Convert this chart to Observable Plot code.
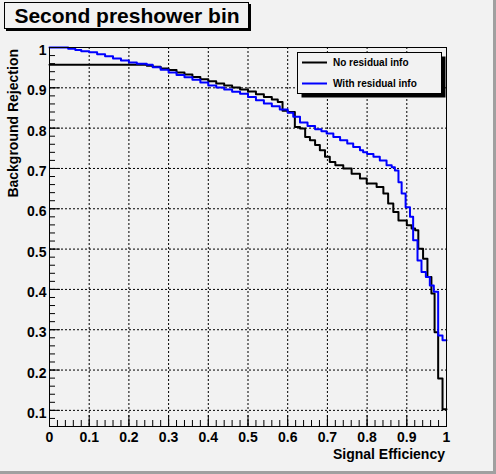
<!DOCTYPE html>
<html><head><meta charset="utf-8">
<script src="https://cdn.jsdelivr.net/npm/d3@7"></script>
<script src="https://cdn.jsdelivr.net/npm/@observablehq/plot@0.6"></script>
<style>
html,body{margin:0;padding:0;background:#f2f2f2;}
#chart{position:relative;width:496px;height:474px;}
</style></head><body><div id="chart"></div>
<script>
// ---- data ----
const titleText = "Second preshower bin";
const xLabel = "Signal Efficiency";
const yLabel = "Background Rejection";
const seriesNames = ["No residual info", "With residual info"];
const seriesColors = ["#000000", "#0000ff"];

// "No residual info" (step-after: value holds from this efficiency to the next)
const effNo = [0, 0.245, 0.26, 0.28, 0.30, 0.32, 0.34, 0.36, 0.38, 0.40, 0.42, 0.44, 0.46, 0.48, 0.50, 0.52, 0.54, 0.56, 0.575, 0.587, 0.600, 0.618, 0.631, 0.644, 0.656, 0.669, 0.681, 0.694, 0.706, 0.720, 0.740, 0.761, 0.782, 0.799, 0.824, 0.841, 0.853, 0.866, 0.879, 0.900, 0.912, 0.921, 0.929, 0.941, 0.952, 0.962, 0.970, 0.979, 0.990, 1.0];
const rejNo = [0.957, 0.955, 0.952, 0.948, 0.944, 0.938, 0.933, 0.927, 0.921, 0.916, 0.911, 0.906, 0.901, 0.896, 0.891, 0.884, 0.877, 0.871, 0.865, 0.843, 0.840, 0.803, 0.799, 0.778, 0.770, 0.758, 0.745, 0.729, 0.716, 0.708, 0.700, 0.687, 0.675, 0.663, 0.654, 0.638, 0.613, 0.592, 0.571, 0.559, 0.551, 0.547, 0.501, 0.476, 0.431, 0.390, 0.294, 0.179, 0.103, 0.103];

// "With residual info"
const effRes = [0, 0.047, 0.065, 0.08, 0.10, 0.12, 0.14, 0.16, 0.18, 0.20, 0.22, 0.245, 0.26, 0.28, 0.30, 0.32, 0.34, 0.36, 0.38, 0.40, 0.42, 0.44, 0.46, 0.48, 0.50, 0.52, 0.54, 0.56, 0.58, 0.60, 0.614, 0.631, 0.65, 0.669, 0.685, 0.698, 0.715, 0.732, 0.75, 0.765, 0.782, 0.79, 0.80, 0.816, 0.832, 0.849, 0.862, 0.870, 0.879, 0.887, 0.897, 0.908, 0.916, 0.927, 0.937, 0.948, 0.958, 0.968, 0.979, 0.990, 1.0];
const rejRes = [1.0, 0.997, 0.994, 0.991, 0.988, 0.983, 0.978, 0.973, 0.968, 0.963, 0.960, 0.957, 0.951, 0.945, 0.938, 0.932, 0.926, 0.920, 0.913, 0.906, 0.901, 0.896, 0.890, 0.885, 0.877, 0.869, 0.861, 0.854, 0.846, 0.838, 0.828, 0.814, 0.805, 0.797, 0.792, 0.787, 0.778, 0.770, 0.762, 0.753, 0.745, 0.740, 0.736, 0.729, 0.720, 0.708, 0.703, 0.695, 0.666, 0.638, 0.604, 0.580, 0.522, 0.472, 0.443, 0.431, 0.410, 0.394, 0.286, 0.274, 0.274];

const xTickValues = [0, 0.1, 0.2, 0.3, 0.4, 0.5, 0.6, 0.7, 0.8, 0.9, 1];
const xTickLabels = ["0", "0.1", "0.2", "0.3", "0.4", "0.5", "0.6", "0.7", "0.8", "0.9", "1"];
const yTickValues = [0.1, 0.2, 0.3, 0.4, 0.5, 0.6, 0.7, 0.8, 0.9, 1];
const yTickLabels = ["0.1", "0.2", "0.3", "0.4", "0.5", "0.6", "0.7", "0.8", "0.9", "1"];
const xDomain = [0, 1];
const yDomain = [0.06, 1];

// ---- layout ----
const W = 496, H = 474, mL = 49, mR = 50, mT = 47, mB = 48;
const innerW = W - mL - mR, innerH = H - mT - mB;
const bg = "#f2f2f2";
const font = "'Liberation Sans', Arial, Helvetica, sans-serif";

const dataNo = effNo.map((x, i) => ({x, y: rejNo[i]}));
const dataRes = effRes.map((x, i) => ({x, y: rejRes[i]}));
const xMinor = d3.range(0, 1.0001, 0.02);
const yMinor = d3.range(0.06, 1.0001, 0.02);
const xGrid = xTickValues.filter(v => v > 0 && v < 1);
const yGrid = yTickValues.filter(v => v < 1);
const xFmt = d => xTickLabels[xTickValues.findIndex(v => Math.abs(v - d) < 1e-9)];
const yFmt = d => yTickLabels[yTickValues.findIndex(v => Math.abs(v - d) < 1e-9)];

const plot = Plot.plot({
  width: W, height: H,
  marginLeft: mL, marginRight: mR, marginTop: mT, marginBottom: mB,
  style: {background: bg, fontFamily: font, fontSize: "14px", fontWeight: "bold", color: "black"},
  x: {domain: xDomain, label: null},
  y: {domain: yDomain, label: null},
  marks: [
    Plot.ruleX(xGrid, {x: d => d, stroke: "black", strokeWidth: 1, strokeDasharray: "2,2"}),
    Plot.ruleY(yGrid, {y: d => d, stroke: "black", strokeWidth: 1, strokeDasharray: "2,2"}),
    Plot.line(dataNo, {x: "x", y: "y", curve: "step-after", stroke: seriesColors[0], strokeWidth: 2}),
    Plot.line(dataRes, {x: "x", y: "y", curve: "step-after", stroke: seriesColors[1], strokeWidth: 2}),
    Plot.tickX(xMinor, {x: d => d, insetTop: innerH - 6, stroke: "black"}),
    Plot.tickX(xTickValues, {x: d => d, insetTop: innerH - 11, stroke: "black"}),
    Plot.tickY(yMinor, {y: d => d, insetRight: innerW - 6, stroke: "black"}),
    Plot.tickY(yTickValues, {y: d => d, insetRight: innerW - 11, stroke: "black"}),
    Plot.frame({stroke: "black", strokeWidth: 1}),
    Plot.axisX(xTickValues, {tickSize: 0, tickPadding: 6, tickFormat: xFmt, label: null, fontSize: 14, fontWeight: "bold"}),
    Plot.axisY(yTickValues, {tickSize: 0, tickPadding: 3, dy: 3, tickFormat: yFmt, label: null, fontSize: 14, fontWeight: "bold"})
  ]
});
document.getElementById("chart").appendChild(plot);

const svg = d3.select(plot);
// canvas bevel (right / bottom)
svg.append("rect").attr("x", W - 3).attr("y", 0).attr("width", 3).attr("height", H).attr("fill", "#a0a0a0");
svg.append("rect").attr("x", 0).attr("y", H - 3).attr("width", W).attr("height", 3).attr("fill", "#a0a0a0");

// axis titles
svg.append("text").attr("x", mL + innerW - 1).attr("y", 459).attr("text-anchor", "end")
  .attr("font-family", font).attr("font-size", 14).attr("font-weight", "bold").attr("fill", "black").text(xLabel);
svg.append("text").attr("transform", `translate(18,${mT + 2}) rotate(-90)`).attr("text-anchor", "end")
  .attr("font-family", font).attr("font-size", 14).attr("font-weight", "bold").attr("fill", "black").text(yLabel);

// title box
svg.append("rect").attr("x", 6).attr("y", 4).attr("width", 245).attr("height", 27).attr("fill", "black");
svg.append("rect").attr("x", 4.5).attr("y", 2.5).attr("width", 244).attr("height", 26).attr("fill", bg).attr("stroke", "black");
svg.append("text").attr("x", 127).attr("y", 22.5).attr("text-anchor", "middle")
  .attr("font-family", font).attr("font-size", 21).attr("font-weight", "bold").attr("fill", "black").text(titleText);

// legend
const lg = svg.append("g");
lg.append("rect").attr("x", 301.5).attr("y", 56.5).attr("width", 144).attr("height", 41).attr("fill", "black");
lg.append("rect").attr("x", 297.5).attr("y", 52.5).attr("width", 144).attr("height", 41).attr("fill", bg).attr("stroke", "black");
seriesNames.forEach((name, i) => {
  const cy = 62.5 + i * 21;
  lg.append("line").attr("x1", 302).attr("x2", 327).attr("y1", cy).attr("y2", cy)
    .attr("stroke", seriesColors[i]).attr("stroke-width", 2);
  lg.append("text").attr("x", 333).attr("y", cy + 3.6).attr("text-anchor", "start")
    .attr("font-family", font).attr("font-size", 10).attr("font-weight", "bold").attr("fill", "black").text(name);
});
</script>
</body></html>
